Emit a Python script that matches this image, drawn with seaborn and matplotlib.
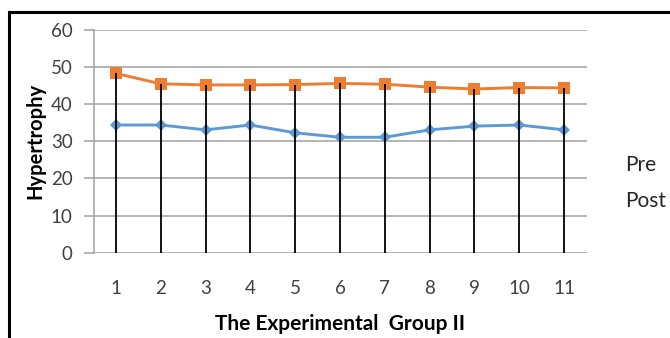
import numpy as np
import pandas as pd
import matplotlib
matplotlib.use('Agg')
import matplotlib.pyplot as plt
from matplotlib.patches import Rectangle
import seaborn as sns

# values
groups = [1, 2, 3, 4, 5, 6, 7, 8, 9, 10, 11]
pre = [34.4, 34.4, 33.1, 34.4, 32.3, 31.1, 31.1, 33.1, 34.1, 34.4, 33.1]
post = [48.3, 45.5, 45.2, 45.2, 45.3, 45.6, 45.4, 44.6, 44.1, 44.5, 44.4]
series_names = ['Pre', 'Post']
y_ticks = [0, 10, 20, 30, 40, 50, 60]

df = pd.DataFrame({
    'group': groups * 2,
    'value': pre + post,
    'phase': ['Pre'] * len(groups) + ['Post'] * len(groups),
})

sns.set_style('white')
plt.rcParams['font.family'] = ['Lato', 'DejaVu Sans']

fig = plt.figure(figsize=(6.7, 3.38), dpi=100)
ax = fig.add_axes([93.5 / 670, 1 - 252.7 / 338, 493 / 670, 222.7 / 338])

sns.lineplot(data=df, x='group', y='value', hue='phase', style='phase',
             hue_order=series_names, style_order=series_names,
             palette={'Pre': '#5B9BD5', 'Post': '#ED7D31'},
             markers={'Pre': 'D', 'Post': 's'}, dashes=False,
             linewidth=2.1, markeredgewidth=0, ax=ax, legend=True)
# marker sizes per series
ax.lines[0].set_markersize(6.5)
ax.lines[1].set_markersize(8.5)

# drop lines (black, from Post down to 0)
ax.vlines(groups, 0, post, color='black', linewidth=1.3, zorder=5)

ax.set_xlim(0.5, 11.5)
ax.set_ylim(0, 60)
ax.set_yticks(y_ticks)
ax.set_xticks(groups)
ax.yaxis.grid(True, color='#A0A0A0', linewidth=1.1)
ax.set_axisbelow(True)
for side in ['top', 'right', 'bottom']:
    ax.spines[side].set_visible(False)
ax.spines['left'].set_color('#A0A0A0')
ax.spines['left'].set_linewidth(1.1)
ax.tick_params(axis='y', left=True, length=7, width=1.1, color='#A0A0A0',
               pad=8, labelsize=13.5, labelcolor='#404040')
ax.tick_params(axis='x', bottom=False, pad=16, labelsize=13.5, labelcolor='#404040')

ax.set_xlabel('The Experimental  Group II', fontsize=15, fontweight='bold',
              color='black', labelpad=12.5)
ax.set_ylabel('Hypertrophy', fontsize=14.5, fontweight='bold', color='black',
              labelpad=4)

handles, labels = ax.get_legend_handles_labels()
ax.get_legend().remove()
leg = fig.legend(handles, labels, loc='upper left',
                 bbox_to_anchor=(615 / 670, 1 - 145 / 338),
                 frameon=False, handlelength=0, handletextpad=0,
                 borderpad=0, labelspacing=0.75, fontsize=15)
for h in leg.legend_handles:
    h.set_visible(False)
for t in leg.get_texts():
    t.set_color('#262626')

# outer chart frame
fig.add_artist(Rectangle((8.5 / 670, -0.1), 1.2, 1 - 12 / 338 + 0.1,
                         transform=fig.transFigure, fill=False,
                         edgecolor='black', linewidth=2.2, clip_on=False))

fig.savefig('out.png', dpi=100)
